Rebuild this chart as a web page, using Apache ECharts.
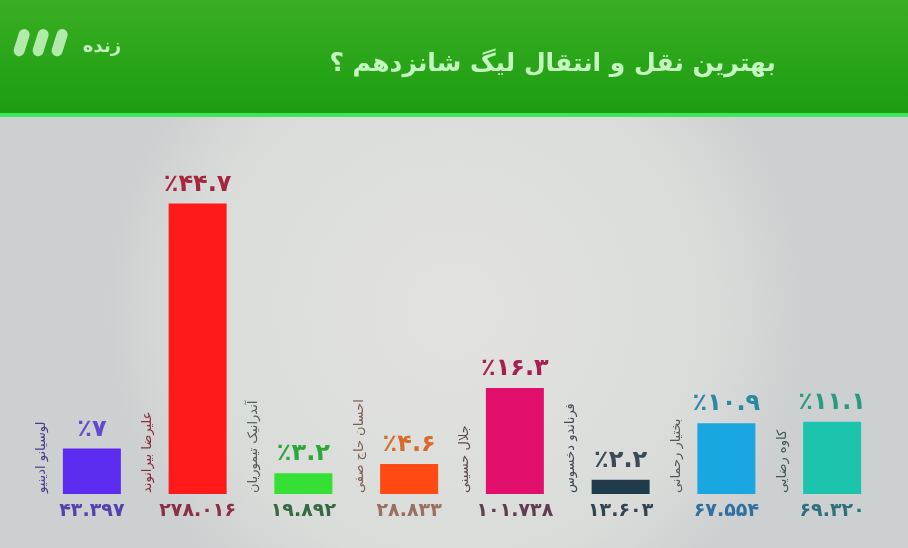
<!DOCTYPE html>
<html><head><meta charset="utf-8">
<script src="https://cdn.jsdelivr.net/npm/echarts@6/dist/echarts.min.js"></script>
<style>html,body{margin:0;padding:0;background:#dcdedc}#c{width:908px;height:548px}</style>
</head><body><div id="c"></div>
<script>
const names = ['لوسیانو ادینیو','علیرضا بیرانوند','آندرانیک تیموریان','احسان حاج صفی','جلال حسینی','فرناندو دخسوس','بختیار رحمانی','کاوه رضایی'];
const percents = [7, 44.7, 3.2, 4.6, 16.3, 2.2, 10.9, 11.1];
const percentLabels = ['٪۷','٪۴۴.۷','٪۳.۲','٪۴.۶','٪۱۶.۳','٪۲.۲','٪۱۰.۹','٪۱۱.۱'];
const voteLabels = ['۴۳.۳۹۷','۲۷۸.۰۱۶','۱۹.۸۹۲','۲۸.۸۳۳','۱۰۱.۷۳۸','۱۳.۶۰۳','۶۷.۵۵۴','۶۹.۳۲۰'];
const title = 'بهترین نقل و انتقال لیگ شانزدهم ؟';
const liveText = 'زنده';

const barColors = ['#5b2cf0','#ff1a1a','#34e034','#ff4a14','#e2106c','#1f3b4c','#1aa6e0','#1cc4ae'];
const pctColors = ['#6448d0','#a3283e','#2aa83c','#d86a2a','#a52052','#3a4a56','#2a88a2','#2a9a80'];
const voteColors = ['#5540b0','#8a3042','#356a40','#9a7060','#5e3e50','#304452','#3070a0','#30707e'];
const nameColors = ['#4a3a90','#8a2a3c','#505a58','#7a6050','#5a4a50','#3e4a50','#4e5a5a','#3f5858'];

const FONT = 'DejaVu Sans';
const chart = echarts.init(document.getElementById('c'), null, {renderer:'canvas'});

const slash = (x) => ({
  type:'rect', x:x, y:28, rotation:-0.3, originX:5.5, originY:28,
  shape:{x:0, y:0, width:11, height:28, r:5.5}, style:{fill:'#b2eaac'}, z:10
});

chart.setOption({
  backgroundColor:'#dcdedc',
  animation:false,
  graphic:[
    {type:'rect', shape:{x:0,y:114,width:908,height:434}, z:-10,
      style:{fill:new echarts.graphic.RadialGradient(0.5,0.45,0.8,[{offset:0,color:'#e2e3e0'},{offset:0.75,color:'#dadcda'},{offset:1,color:'#cdd0d0'}])}},
    {type:'rect', shape:{x:0,y:0,width:908,height:114}, z:-9,
      style:{fill:new echarts.graphic.LinearGradient(0,0,0,1,[{offset:0,color:'#3aae22'},{offset:1,color:'#1c9d12'}])}},
    {type:'rect', shape:{x:0,y:113,width:908,height:4}, z:-8, style:{fill:'#3ee65a'}},
    slash(12), slash(31), slash(50),
    {type:'text', x:121, y:47, z:10, style:{text:liveText, font:'bold 18px "DejaVu Sans"', fill:'#c4f2be', align:'right', verticalAlign:'middle'}},
    {type:'text', x:776, y:64, z:10, style:{text:title, font:'bold 25px "DejaVu Sans"', fill:'#c4f6bf', align:'right', verticalAlign:'middle'}}
  ],
  grid:{left:39, right:23, top:130, bottom:54},
  xAxis:{
    type:'category',
    data: voteLabels.map((v,i)=>({value:v, textStyle:{color:voteColors[i]}})),
    axisLine:{show:false}, axisTick:{show:false},
    axisLabel:{margin:8, fontFamily:FONT, fontSize:19, fontWeight:'bold', interval:0}
  },
  yAxis:{type:'value', min:0, max:56, show:false, splitLine:{show:false}},
  series:[
    {
      type:'bar', barWidth:58,
      data: percents.map((v,i)=>({value:v, itemStyle:{color:barColors[i]},
        label:{color:pctColors[i], formatter:percentLabels[i]}})),
      label:{show:true, position:'top', distance:7, fontFamily:FONT, fontSize:24, fontWeight:'bold'}
    },
    {
      type:'custom',
      data: percents.map((v,i)=>[i, 0]),
      renderItem:function(params, api){
        const i = params.dataIndex;
        const p = api.coord([api.value(0), 0]);
        return {type:'text', x:p[0]-50, y:p[1]-1, rotation:Math.PI/2,
          style:{text:names[i], font:'13px "DejaVu Sans"', fill:nameColors[i], align:'left', verticalAlign:'middle'}};
      },
      z:5
    }
  ]
});
</script></body></html>
